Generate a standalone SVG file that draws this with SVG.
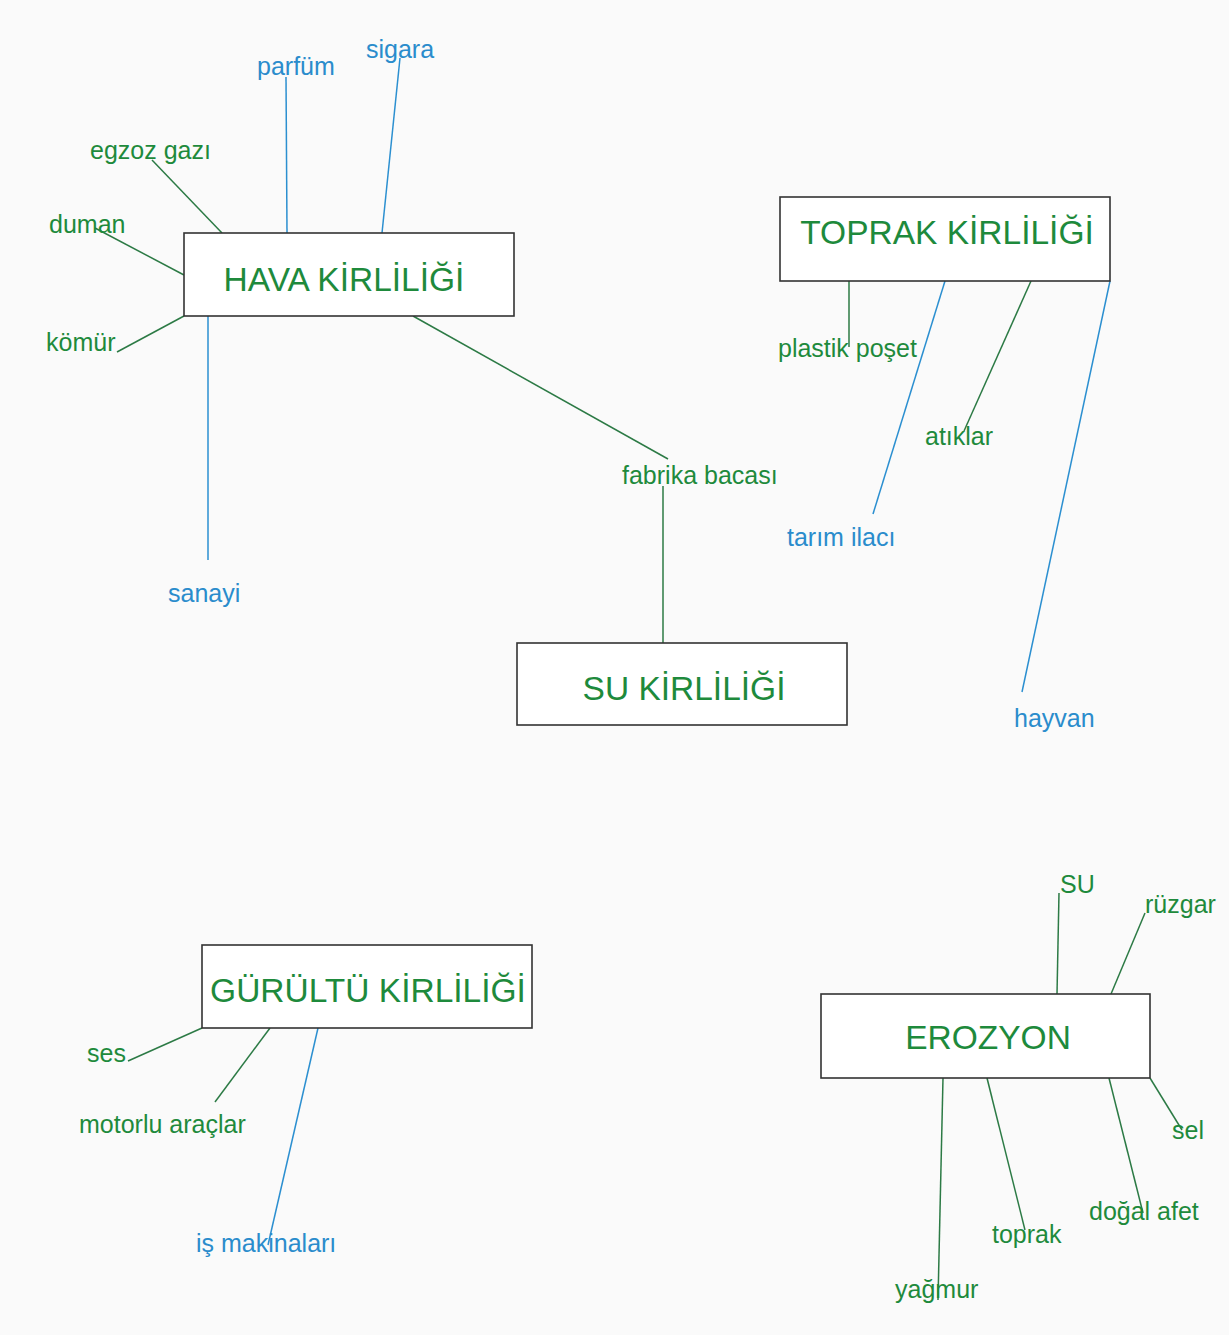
<svg xmlns="http://www.w3.org/2000/svg" width="1229" height="1335" viewBox="0 0 1229 1335">
  <style>
    .box { fill: #ffffff; stroke: #333333; stroke-width: 1.6; }
    .head { font-family: "Liberation Sans", Arial, sans-serif; font-size: 33.5px; fill: #1e8a3c; }
    .lbl { font-family: "Liberation Sans", Arial, sans-serif; font-size: 25px; }
    .g { fill: #1e8a3c; }
    .b { fill: #2a8ccc; }
    .lg { stroke: #2c7a45; stroke-width: 1.5; fill: none; }
    .lb { stroke: #2b8fd0; stroke-width: 1.5; fill: none; }
  </style>
  <rect width="1229" height="1335" fill="#fafafa"/>

  <g id="connectors">
    <!-- HAVA KİRLİLİĞİ -->
    <line class="lb" x1="286" y1="77" x2="287" y2="233"/>
    <line class="lb" x1="400" y1="58" x2="382" y2="233"/>
    <line class="lg" x1="152" y1="160" x2="222" y2="233"/>
    <line class="lg" x1="95" y1="228" x2="184" y2="275"/>
    <line class="lg" x1="117" y1="352" x2="184" y2="316"/>
    <line class="lb" x1="208" y1="316" x2="208" y2="560"/>
    <line class="lg" x1="413" y1="316" x2="668" y2="459"/>
    <!-- SU KİRLİLİĞİ -->
    <line class="lg" x1="663" y1="486" x2="663" y2="643"/>
    <!-- TOPRAK KİRLİLİĞİ -->
    <line class="lg" x1="849" y1="281" x2="849" y2="347"/>
    <line class="lb" x1="945" y1="281" x2="873" y2="514"/>
    <line class="lg" x1="1031" y1="281" x2="964" y2="431"/>
    <line class="lb" x1="1110" y1="281" x2="1022" y2="692"/>
    <!-- GÜRÜLTÜ KİRLİLİĞİ -->
    <line class="lg" x1="128" y1="1061" x2="202" y2="1028"/>
    <line class="lg" x1="270" y1="1028" x2="215" y2="1102"/>
    <line class="lb" x1="318" y1="1028" x2="268" y2="1245"/>
    <!-- EROZYON -->
    <line class="lg" x1="1059" y1="893" x2="1057" y2="994"/>
    <line class="lg" x1="1145" y1="913" x2="1111" y2="994"/>
    <line class="lg" x1="1150" y1="1078" x2="1182" y2="1130"/>
    <line class="lg" x1="1109" y1="1078" x2="1143" y2="1213"/>
    <line class="lg" x1="987" y1="1078" x2="1025" y2="1230"/>
    <line class="lg" x1="943" y1="1078" x2="938" y2="1300"/>
  </g>

  <g id="hava">
    <rect class="box" x="184" y="233" width="330" height="83"/>
    <text class="head" x="344" y="291" text-anchor="middle">HAVA KİRLİLİĞİ</text>
  </g>
  <g id="toprak-kirliligi">
    <rect class="box" x="780" y="197" width="330" height="84"/>
    <text class="head" x="947" y="244" text-anchor="middle">TOPRAK KİRLİLİĞİ</text>
  </g>
  <g id="su-kirliligi">
    <rect class="box" x="517" y="643" width="330" height="82"/>
    <text class="head" x="684" y="700" text-anchor="middle">SU KİRLİLİĞİ</text>
  </g>
  <g id="gurultu">
    <rect class="box" x="202" y="945" width="330" height="83"/>
    <text class="head" x="368" y="1002" text-anchor="middle">GÜRÜLTÜ KİRLİLİĞİ</text>
  </g>
  <g id="erozyon">
    <rect class="box" x="821" y="994" width="329" height="84"/>
    <text class="head" x="988" y="1049" text-anchor="middle">EROZYON</text>
  </g>

  <g id="labels" class="lbl">
    <text class="b" x="257" y="75">parfüm</text>
    <text class="b" x="366" y="58">sigara</text>
    <text class="g" x="90" y="159">egzoz gazı</text>
    <text class="g" x="49" y="233">duman</text>
    <text class="g" x="46" y="351">kömür</text>
    <text class="b" x="168" y="602">sanayi</text>
    <text class="g" x="622" y="484">fabrika bacası</text>
    <text class="g" x="778" y="357">plastik poşet</text>
    <text class="g" x="925" y="445">atıklar</text>
    <text class="b" x="787" y="546">tarım ilacı</text>
    <text class="b" x="1014" y="727">hayvan</text>
    <text class="g" x="87" y="1062">ses</text>
    <text class="g" x="79" y="1133">motorlu araçlar</text>
    <text class="b" x="196" y="1252">iş makinaları</text>
    <text class="g" x="1060" y="893">SU</text>
    <text class="g" x="1145" y="913">rüzgar</text>
    <text class="g" x="1172" y="1139">sel</text>
    <text class="g" x="1089" y="1220">doğal afet</text>
    <text class="g" x="992" y="1243">toprak</text>
    <text class="g" x="895" y="1298">yağmur</text>
  </g>
</svg>
